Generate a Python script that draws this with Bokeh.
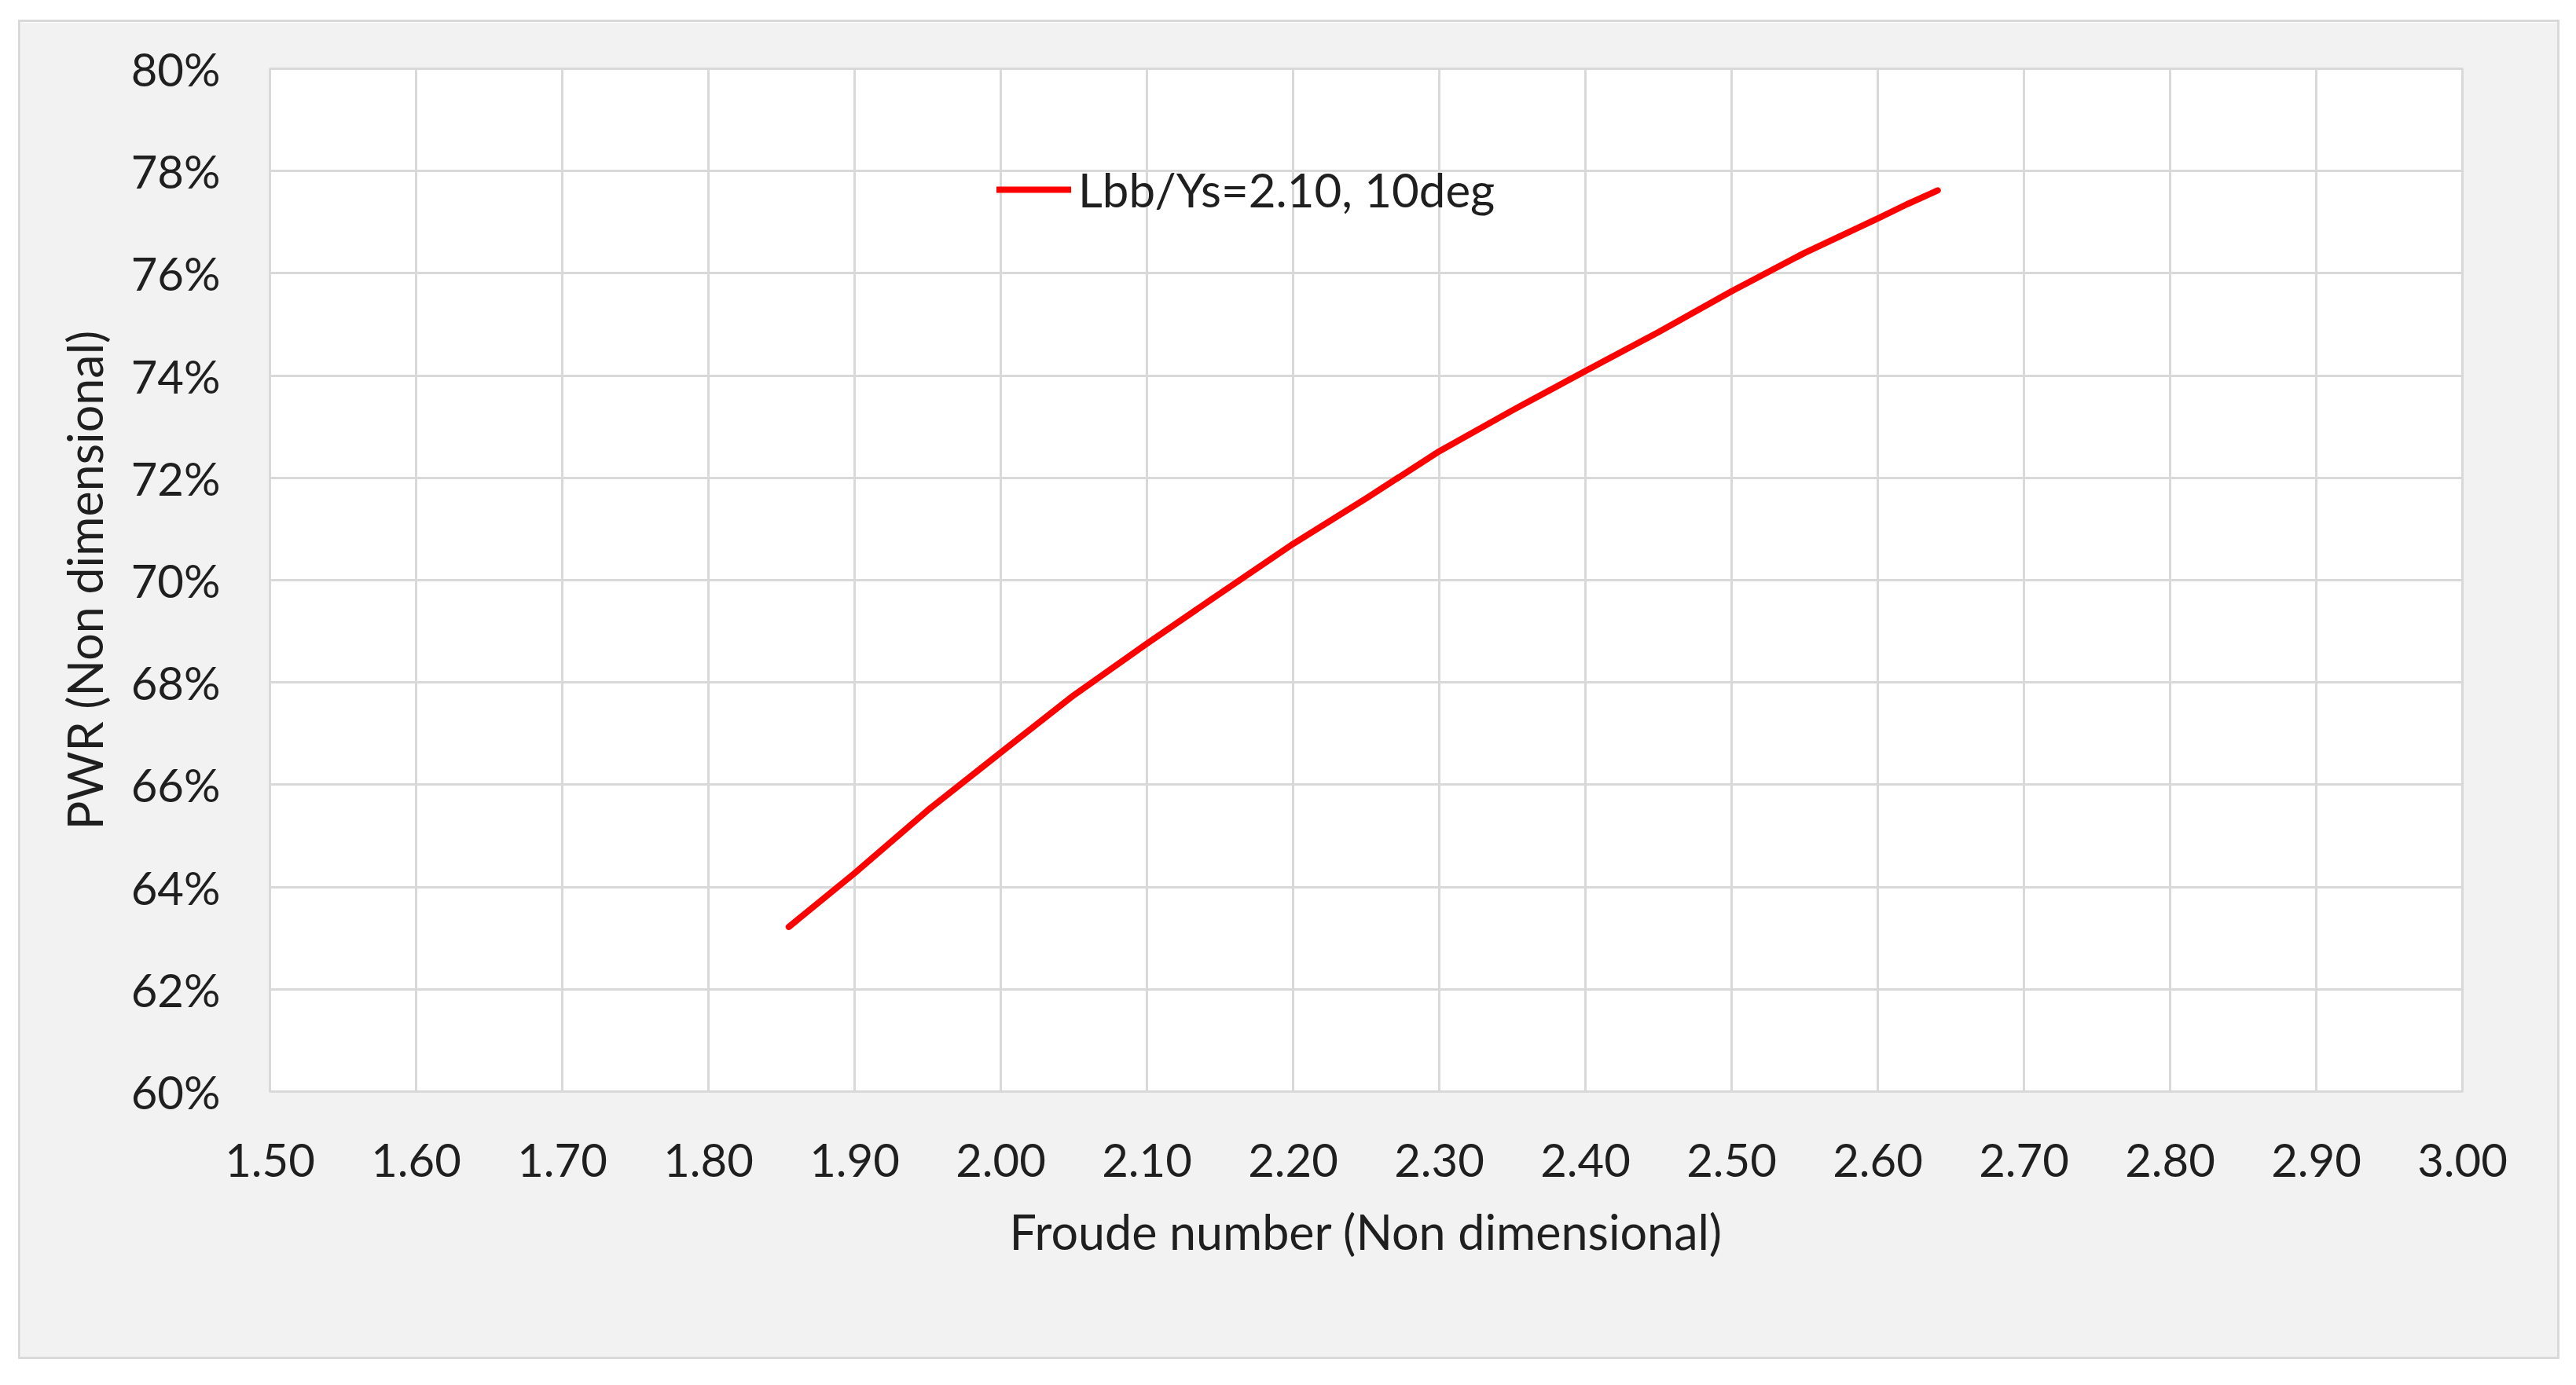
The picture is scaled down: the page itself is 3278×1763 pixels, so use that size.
from bokeh.plotting import figure
from bokeh.models import Range1d, FixedTicker, NumeralTickFormatter, Legend, LegendItem
from bokeh.embed import file_html
from bokeh.resources import INLINE

# ---- data ----
froude = [1.855, 1.90, 1.95, 2.00, 2.05, 2.10, 2.15, 2.20, 2.25, 2.30,
          2.35, 2.40, 2.45, 2.50, 2.55, 2.60, 2.62, 2.641]
pwr = [0.6322, 0.6427, 0.6550, 0.6663, 0.6775, 0.6876, 0.6974, 0.7071, 0.7160, 0.7252,
       0.7332, 0.7409, 0.7485, 0.7565, 0.7640, 0.7707, 0.7735, 0.7762]
series_label = "Lbb/Ys=2.10, 10deg"
x_ticks = [1.5, 1.6, 1.7, 1.8, 1.9, 2.0, 2.1, 2.2, 2.3, 2.4, 2.5, 2.6, 2.7, 2.8, 2.9, 3.0]
y_ticks = [0.60, 0.62, 0.64, 0.66, 0.68, 0.70, 0.72, 0.74, 0.76, 0.78, 0.80]
x_title = "Froude number (Non dimensional)"
y_title = "PWR (Non dimensional)"

FONT = "Lato"
TXT = "#1f1f1f"
GRID = "#d9d9d9"

p = figure(width=3228, height=1699, output_backend="svg", toolbar_location=None,
           x_range=Range1d(1.5, 3.0), y_range=Range1d(0.6, 0.8),
           min_border_left=317, min_border_right=121, min_border_top=59, min_border_bottom=338)
p.margin = (28, 0, 0, 26)
p.styles = {"outline": "3px solid #d9d9d9"}

p.border_fill_color = "#f2f2f2"
p.background_fill_color = "white"
p.outline_line_color = GRID
p.outline_line_width = 3

p.xaxis.ticker = FixedTicker(ticks=x_ticks)
p.yaxis.ticker = FixedTicker(ticks=y_ticks)
p.xaxis.formatter = NumeralTickFormatter(format="0.00")
p.yaxis.formatter = NumeralTickFormatter(format="0%")

for ax in (p.xaxis[0], p.yaxis[0]):
    ax.axis_line_color = None
    ax.major_tick_line_color = None
    ax.minor_tick_line_color = None
    ax.major_tick_out = 0
    ax.major_tick_in = 0
    ax.major_label_text_font = FONT
    ax.major_label_text_font_size = "58px"
    ax.major_label_text_color = TXT
    ax.axis_label_text_font = FONT
    ax.axis_label_text_font_size = "61px"
    ax.axis_label_text_font_style = "normal"
    ax.axis_label_text_color = TXT

p.xaxis.axis_label = x_title
p.yaxis.axis_label = y_title
p.xaxis.major_label_standoff = 66
p.xaxis.axis_label_standoff = 30
p.yaxis.major_label_standoff = 63
p.yaxis.axis_label_standoff = 20

p.xgrid.grid_line_color = GRID
p.ygrid.grid_line_color = GRID
p.xgrid.grid_line_width = 3
p.ygrid.grid_line_width = 3

r = p.line(froude, pwr, line_color="#ff0000", line_width=8, line_cap="round", line_join="round")

legend = Legend(items=[LegendItem(label=series_label, renderers=[r])],
                location=(925, 1112), orientation="vertical")
legend.background_fill_alpha = 0
legend.border_line_color = None
legend.padding = 0
legend.margin = 0
legend.spacing = 0
legend.glyph_width = 95
legend.glyph_height = 68
legend.label_height = 68
legend.label_standoff = 9
legend.label_text_font = FONT
legend.label_text_font_size = "60px"
legend.label_text_color = TXT
p.add_layout(legend, "center")

open("out.html", "w").write(file_html(p, INLINE))
